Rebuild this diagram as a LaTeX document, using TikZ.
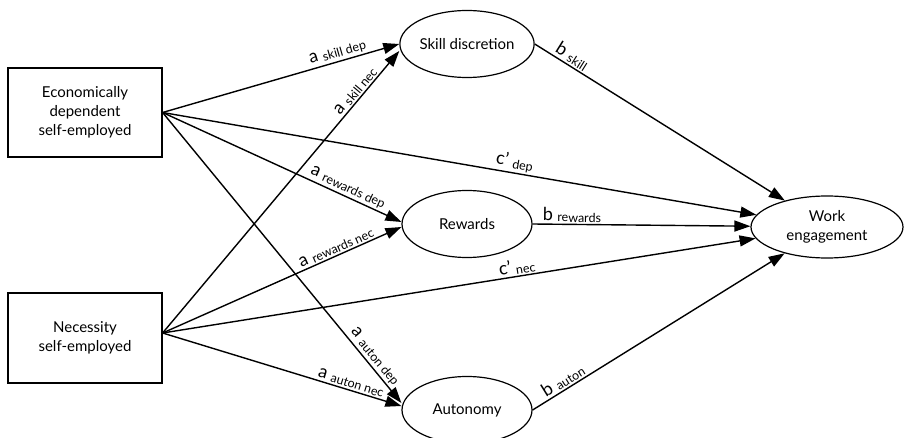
\documentclass[tikz,border=0pt]{standalone}
\usepackage{fontspec}
\setmainfont{Lato}
\usepackage{tikz}
\usetikzlibrary{arrows.meta,shapes.geometric}
\newcommand{\lsub}[1]{\raisebox{-1.5pt}{\fontsize{12.5}{13}\selectfont #1}}

\begin{document}
\begin{tikzpicture}[x=1pt,y=-1pt,
every node/.style={font=\fontsize{15}{19}\selectfont}, box/.style={draw,line width=1.2pt,align=center,
minimum width=154pt,minimum height=89pt}, med/.style={draw,ellipse,line width=1.2pt,align=center,
minimum width=130pt,minimum height=67pt,inner sep=0pt}, arr/.style={-{Triangle[length=16pt,width=11pt]},line width=1.4pt},
lab/.style={sloped,above,inner sep=1.5pt,font=\fontsize{18}{18}\selectfont}]
\useasboundingbox (0,0) rectangle (908,438);

\node[box] (econ) at (85,112.5) {Economically\\dependent\\self-employed};
\node[box,minimum height=90pt] (nec) at (85,338) {Necessity\\self-employed};

\node[med] (skill) at (467,44) {Skill discretion};
\node[med] (rew) at (467,224) {Rewards};
\node[med] (aut) at (467,410) {Autonomy};
\node[med,minimum width=152pt,minimum height=62pt] (work) at (827,227) {Work\\engagement};

\draw[arr] (econ.east)--(skill.west) node[lab,pos=0.75] {a \lsub{skill dep}};
\draw[arr] ([yshift=5pt]nec.east)--([yshift=-7pt]skill.west) node[lab,pos=0.84] {a \lsub{skill nec}};
\draw[arr] (econ.east)--([yshift=2pt]rew.west) node[lab,pos=0.76] {a \lsub{rewards dep}};
\draw[arr] ([yshift=5pt]nec.east)--([yshift=-3pt]rew.west) node[lab,pos=0.74] {a \lsub{rewards nec}};
\draw[arr] (econ.east)--([yshift=7pt]aut.west) node[lab,pos=0.86] {a \lsub{auton dep}};
\draw[arr] ([yshift=5pt]nec.east)--([yshift=4pt]aut.west) node[lab,pos=0.78] {a \lsub{auton nec}};

\draw[arr] (econ.east)--(work) node[lab,pos=0.59] {c' \lsub{dep}};
\draw[arr] ([yshift=5pt]nec.east)--(work) node[lab,pos=0.6] {c' \lsub{nec}};

\draw[arr] (skill.east)--(work) node[lab,pos=0.13] {b \lsub{skill}};
\draw[arr] (rew.east)--(work) node[lab,pos=0.18] {b \lsub{rewards}};
\draw[arr] (aut.east)--(work) node[lab,pos=0.14] {b \lsub{auton}};
\end{tikzpicture}
\end{document}
